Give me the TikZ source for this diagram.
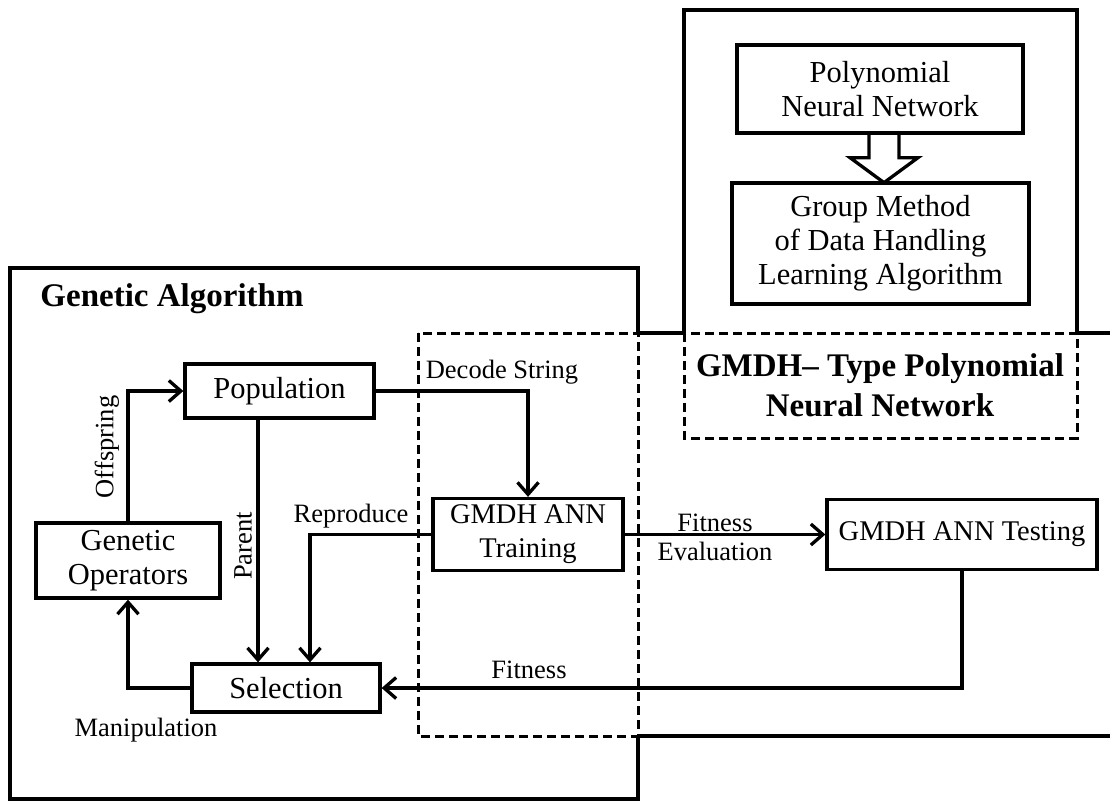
\documentclass[tikz,border=0pt]{standalone}
\usepackage{fontspec}
\setmainfont{Liberation Serif}
\usetikzlibrary{arrows.meta}

\begin{document}
\begin{tikzpicture}[x=1pt,y=-1pt,
  line width=3.3pt,
  box/.style={draw, line width=3.3pt, rectangle, align=center, inner sep=0pt,
              font=\fontsize{30.5}{34}\selectfont},
  gbox/.style={box, font=\fontsize{28.5}{34}\selectfont},
  lbl/.style={inner sep=0pt, align=center, font=\fontsize{26.5}{29}\selectfont},
  ttl/.style={inner sep=0pt, align=center, font=\fontsize{33}{40}\selectfont\bfseries},
  arr/.style={-{Straight Barb[length=12pt,width=21pt,line width=3.3pt]}, line width=3.3pt},
  dsh/.style={dash pattern=on 9pt off 5pt, line width=3pt}
]
\useasboundingbox (0,0) rectangle (1110,801);
\fill[white] (0,0) rectangle (1110,801);

% ---- frames ----
% Genetic Algorithm frame (right side partly dashed)
\draw (638,333) -- (638,268) -- (10,268) -- (10,799) -- (638,799) -- (638,736);
% GMDH network frame
\draw (684,333) -- (684,10) -- (1077,10) -- (1077,333);
\draw (638,333) -- (684,333);
\draw (1077,333) -- (1110,333);
\draw (638,736) -- (1110,736);
% dashed regions
\draw[dsh] (418,333) rectangle (638,736);
\draw[dsh] (684,333) rectangle (1077,438);

% ---- titles ----
\node[ttl] (gatitle) at (172,299) {Genetic Algorithm};
\node[ttl] (pnntitle) at (880,385) {GMDH{\textendash} Type Polynomial\\Neural Network};

% ---- blocks ----
\node[box, minimum width=286pt, minimum height=88pt] (pnn) at (880,89)
  {Polynomial\\Neural Network};
\node[box, minimum width=297pt, minimum height=121pt] (gmdh) at (880.5,243.5)
  {Group Method\\of Data Handling\\Learning Algorithm};

\node[box, minimum width=189pt, minimum height=54pt] (pop) at (279.5,391) {Population};
\node[gbox, minimum width=190pt, minimum height=72pt] (tr) at (528,534.5) {GMDH ANN\\Training};
\node[gbox, minimum width=270pt, minimum height=70pt] (test) at (962,534.5) {GMDH ANN Testing};
\node[box, minimum width=188pt, minimum height=48pt] (sel) at (286,688) {Selection};
\node[box, minimum width=184pt, minimum height=75pt] (gop) at (128,560.5) {Genetic\\Operators};

% ---- hollow arrow between the two upper blocks ----
\draw[line join=miter] ([xshift=-11pt]pnn.south) -- ++(0,23) -- ++(-19,0)
  -- ++(34,25) -- ++(34,-25) -- ++(-19,0) -- ++(0,-23);

% ---- connectors ----
\draw[arr] (gop.north) |- (pop.west);
\draw[arr] ([xshift=-21.5pt]pop.south) -- ([xshift=-28pt]sel.north);
\draw[arr] (pop.east) -| (tr.north);
\draw[arr] (tr.west) -| ([xshift=24pt]sel.north);
\draw[arr] (tr.east) -- (test.west);
\draw[arr] (test.south) |- (sel.east);
\draw[arr] (sel.west) -| (gop.south);

% ---- connector labels ----
\node[lbl, rotate=90] (loff) at (107,447) {Offspring};
\node[lbl, rotate=90] (lpar) at (243,546) {Parent};
\node[lbl] (lman) at (146,730) {Manipulation};
\node[lbl] (ldec) at (502,372) {Decode String};
\node[lbl] (lrep) at (351,516) {Reproduce};
\node[lbl] (leva) at (715,537) {Fitness\\Evaluation};
\node[lbl] (lfit) at (529,670) {Fitness};
\end{tikzpicture}
\end{document}
